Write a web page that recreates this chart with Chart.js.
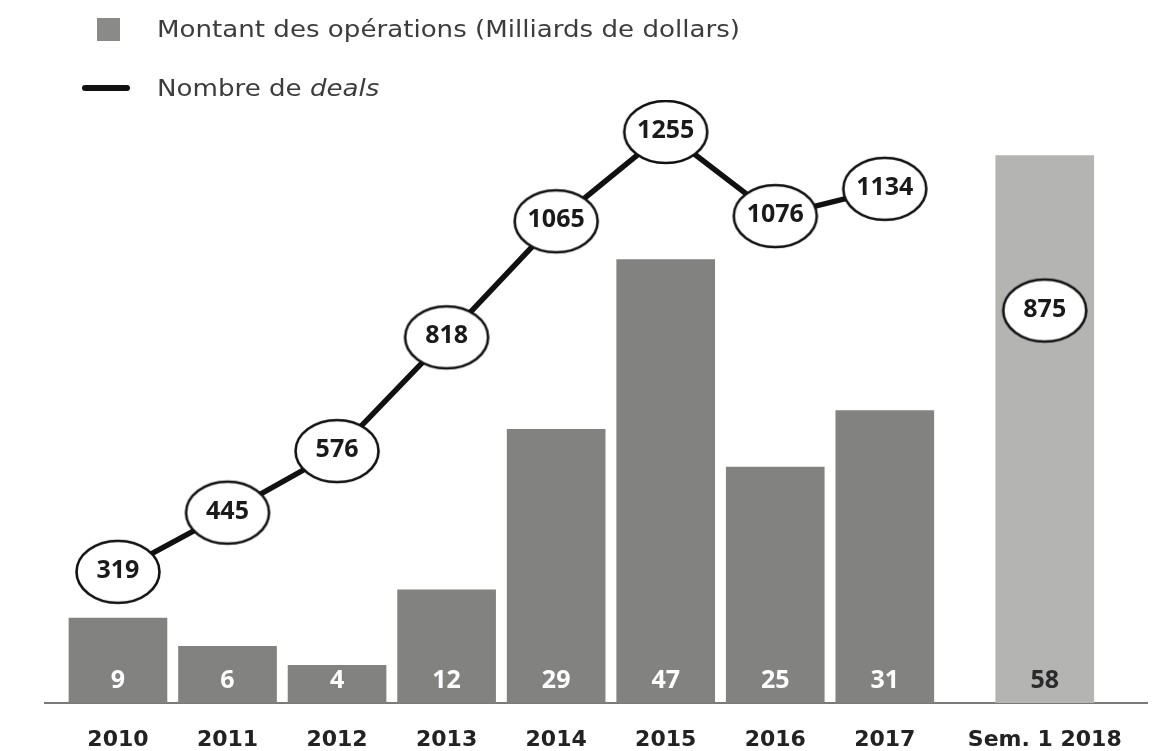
<!DOCTYPE html>
<html>
<head>
<meta charset="utf-8">
<script src="https://cdn.jsdelivr.net/npm/chart.js@4/dist/chart.umd.min.js"></script>
<style>
  html, body { margin: 0; padding: 0; background: #fff; overflow: hidden; }
  #wrap { position: relative; width: 1157px; height: 751px; }
  #chart { display: block; }
  .legend { position: absolute; font-family: "DejaVu Sans", sans-serif; font-size: 22.5px; line-height: 1; color: #3c3c3c; white-space: nowrap; transform: scaleX(1.16); transform-origin: left center; }
  .sw { position: absolute; }
</style>
</head>
<body>
<div id="wrap">
  <canvas id="chart"></canvas>
  <span class="sw" style="left:97px; top:18px; width:23px; height:23px; background:#8a8a88;"></span>
  <span class="legend" style="left:157px; top:18px;">Montant des opérations (Milliards de dollars)</span>
  <span class="sw" style="left:82px; top:85px; width:48px; height:6px; background:#111; border-radius:3px;"></span>
  <span class="legend" style="left:157px; top:77px;">Nombre de <i>deals</i></span>
</div>
<script>
const years = ["2010", "2011", "2012", "2013", "2014", "2015", "2016", "2017", "Sem. 1 2018"];
const slots = [0, 1, 2, 3, 4, 5, 6, 7, 8.46];
const amounts = [9, 6, 4, 12, 29, 47, 25, 31, 58];
const deals = [319, 445, 576, 818, 1065, 1255, 1076, 1134];
const dealsH1 = [875];

// ovale blanc pour les points
function ovalMarker() {
  const c = document.createElement("canvas");
  c.width = 88; c.height = 68;
  const g = c.getContext("2d");
  g.beginPath();
  g.ellipse(44, 34, 41.5, 31, 0, 0, Math.PI * 2);
  g.fillStyle = "#fff";
  g.fill();
  g.lineWidth = 2.6;
  g.strokeStyle = "#111";
  g.stroke();
  return c;
}
const oval = ovalMarker();

const labelsPlugin = {
  id: "labels",
  afterDatasetsDraw(chart) {
    const ctx = chart.ctx;
    ctx.save();
    ctx.textAlign = "center";
    ctx.textBaseline = "middle";
    // valeurs dans les barres
    const bars = chart.getDatasetMeta(0).data;
    ctx.font = "bold 25px 'Open Sans', sans-serif";
    bars.forEach((b, i) => {
      ctx.fillStyle = i === bars.length - 1 ? "#2a2a2a" : "#fff";
      ctx.fillText(String(amounts[i]), b.x, b.base - 22);
    });
    // valeurs dans les ovales
    ctx.fillStyle = "#1a1a1a";
    [[1, deals], [2, dealsH1]].forEach(([idx, vals]) => {
      chart.getDatasetMeta(idx).data.forEach((p, i) => {
        ctx.fillText(String(vals[i]), p.x, p.y - 1);
      });
    });
    ctx.restore();
  }
};

new Chart(document.getElementById("chart").getContext("2d"), {
  data: {
    datasets: [
      {
        type: "bar",
        data: amounts.map((v, i) => ({ x: slots[i], y: v })),
        backgroundColor: amounts.map((v, i) => i === amounts.length - 1 ? "#b4b4b3" : "#828380"),
        barThickness: 98,
        yAxisID: "yBar",
        order: 3
      },
      {
        type: "line",
        data: deals.map((v, i) => ({ x: slots[i], y: v })),
        borderColor: "#111",
        borderWidth: 5.5,
        pointStyle: oval,
        yAxisID: "yDeals",
        order: 1
      },
      {
        type: "line",
        data: dealsH1.map((v) => ({ x: slots[8], y: v })),
        showLine: false,
        pointStyle: oval,
        yAxisID: "yDeals",
        order: 0
      }
    ]
  },
  options: {
    responsive: true,
    maintainAspectRatio: false,
    animation: false,
    layout: { padding: { left: 45, right: 0, top: 100, bottom: 0 } },
    plugins: { legend: { display: false }, tooltip: { enabled: false } },
    scales: {
      x: {
        type: "linear",
        offset: false,
        min: -0.666,
        max: 9.398,
        grid: { display: false, drawTicks: false },
        border: { display: true, color: "#7a7a7a", width: 2 },
        afterBuildTicks: (s) => { s.ticks = slots.map((v) => ({ value: v })); },
        afterFit: (s) => { s.height = 48; },
        ticks: {
          autoSkip: false,
          maxRotation: 0,
          padding: 24,
          color: "#222",
          font: { family: "'DejaVu Sans', sans-serif", size: 22, weight: "bold" },
          callback: (v, i) => years[i]
        }
      },
      yBar: { display: false, min: 0, max: 63.9 },
      yDeals: { display: false, min: 40, max: 1323 }
    }
  },
  plugins: [labelsPlugin]
});
</script>
</body>
</html>
